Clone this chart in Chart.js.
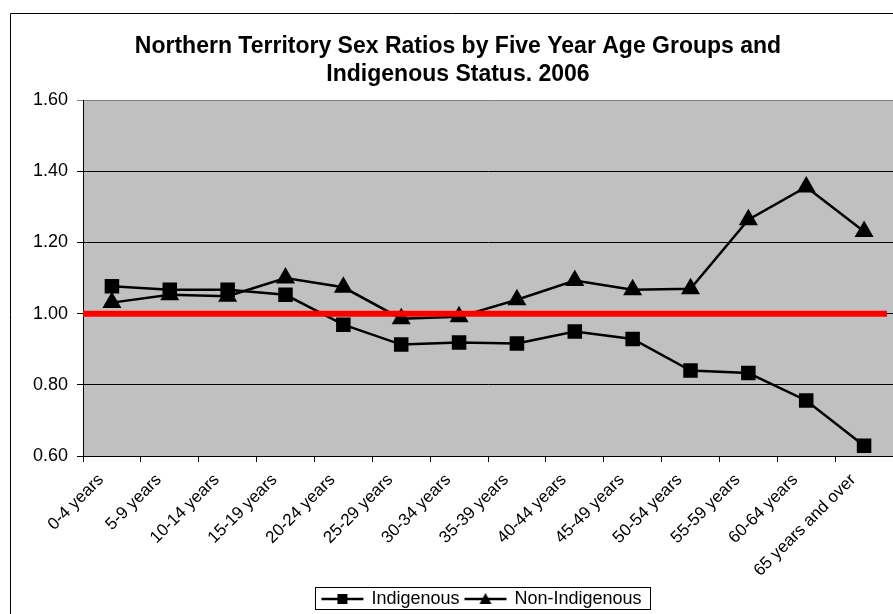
<!DOCTYPE html>
<html>
<head>
<meta charset="utf-8">
<title>NT Sex Ratios 2006</title>
<script src="https://cdn.jsdelivr.net/npm/chart.js@4/dist/chart.umd.min.js"></script>
<style>
  html, body { margin: 0; padding: 0; overflow: hidden; background: #fff; }
  #myChart { display: block; }
</style>
</head>
<body>
<canvas id="myChart" width="893" height="614"></canvas>
<script>
// data
const ageGroups = ['0-4 years', '5-9 years', '10-14 years', '15-19 years', '20-24 years',
  '25-29 years', '30-34 years', '35-39 years', '40-44 years', '45-49 years',
  '50-54 years', '55-59 years', '60-64 years', '65 years and over'];
const indigenous = [1.077, 1.067, 1.067, 1.053, 0.969, 0.913, 0.919, 0.916, 0.950, 0.929, 0.840, 0.833, 0.756, 0.629];
const nonIndigenous = [1.031, 1.053, 1.049, 1.100, 1.074, 0.986, 0.991, 1.039, 1.093, 1.067, 1.070, 1.264, 1.356, 1.231];
const refValue = 1.00;
const yMin = 0.6, yMax = 1.6, yStep = 0.2;
const titleLines = ['Northern Territory Sex Ratios by Five Year Age Groups and', 'Indigenous Status. 2006'];

const FONT = "'Liberation Sans', Arial, sans-serif";

// little line+marker pictures for the legend
function legendIcon(shape) {
  const c = document.createElement('canvas');
  c.width = 46; c.height = 16;
  const g = c.getContext('2d');
  g.strokeStyle = '#000';
  g.lineWidth = 2.5;
  g.beginPath(); g.moveTo(2, 8); g.lineTo(44, 8); g.stroke();
  g.fillStyle = '#000';
  if (shape == 'rect') {
    g.fillRect(18, 3, 10, 10);
  } else {
    g.beginPath(); g.moveTo(23, 2); g.lineTo(29, 13); g.lineTo(17, 13); g.closePath(); g.fill();
  }
  return c;
}

const bgPlugin = {
  id: 'bgPlugin',
  beforeDraw(chart) {
    const ctx = chart.ctx, a = chart.chartArea;
    ctx.save();
    ctx.fillStyle = '#fff';
    ctx.fillRect(0, 0, chart.width, chart.height);
    // outer frame: only top and left show, the rest runs off the picture
    ctx.strokeStyle = '#000';
    ctx.lineWidth = 1;
    ctx.beginPath();
    ctx.moveTo(chart.width + 5, 13.5);
    ctx.lineTo(10.5, 13.5);
    ctx.lineTo(10.5, chart.height + 5);
    ctx.stroke();
    // plot area
    ctx.fillStyle = '#C0C0C0';
    ctx.fillRect(a.left, a.top, a.right - a.left, a.bottom - a.top);
    ctx.restore();
  },
  afterLayout(chart) {
    // nudge title and legend where the original sits
    chart.titleBlock.left += 10; chart.titleBlock.right += 10;
    chart.legend.left += 34; chart.legend.right += 34;
    chart.legend.top += 4; chart.legend.bottom += 4;
  },
  afterDatasetsDraw(chart) {
    const ctx = chart.ctx, a = chart.chartArea;
    const y = chart.scales.y.getPixelForValue(refValue);
    ctx.save();
    ctx.strokeStyle = '#FF0000';
    ctx.lineWidth = 6;
    ctx.beginPath();
    ctx.moveTo(a.left, y);
    ctx.lineTo(a.right - 6, y);
    ctx.stroke();
    ctx.restore();
  },
  afterDraw(chart) {
    // box round the legend
    const hb = chart.legend.legendHitBoxes;
    if (!hb || !hb.length) return;
    let l = Infinity, r = -Infinity, t = Infinity, b = -Infinity;
    hb.forEach(h => {
      l = Math.min(l, h.left); r = Math.max(r, h.left + h.width);
      t = Math.min(t, h.top); b = Math.max(b, h.top + h.height);
    });
    const ctx = chart.ctx;
    ctx.save();
    ctx.strokeStyle = '#000';
    ctx.lineWidth = 1;
    ctx.strokeRect(Math.round(l - 7) + 0.5, Math.round(t - 3) + 0.5, Math.round(r - l + 16), Math.round(b - t + 4));
    ctx.restore();
  }
};

window.addEventListener('load', setup);

function setup() {
  const ctx = document.getElementById('myChart').getContext('2d');
  const icons = [legendIcon('rect'), legendIcon('triangle')];

  new Chart(ctx, {
    type: 'line',
    data: {
      labels: ageGroups,
      datasets: [
        {
          label: 'Indigenous',
          data: indigenous,
          borderColor: '#000',
          backgroundColor: '#000',
          borderWidth: 2.5,
          pointStyle: 'rect',
          pointRadius: 8.5,
          pointHoverRadius: 8.5,
          fill: false,
          tension: 0
        },
        {
          label: 'Non-Indigenous',
          data: nonIndigenous,
          borderColor: '#000',
          backgroundColor: '#000',
          borderWidth: 2.5,
          pointStyle: 'triangle',
          pointRadius: 8.5,
          pointHoverRadius: 8.5,
          fill: false,
          tension: 0
        }
      ]
    },
    options: {
      responsive: false,
      animation: false,
      // plot area runs a few pixels past the right edge, as in the original
      layout: { autoPadding: false, padding: { left: 0, right: -3, top: 0, bottom: 0 } },
      plugins: {
        title: {
          display: true,
          text: titleLines,
          color: '#000',
          font: { family: FONT, size: 23, weight: 'bold', lineHeight: 1.22 },
          padding: { top: 33, bottom: 11 }
        },
        legend: {
          position: 'bottom',
          labels: {
            color: '#000',
            font: { family: FONT, size: 18 },
            usePointStyle: true,
            pointStyleWidth: 40,
            padding: 6,
            generateLabels(chart) {
              return chart.data.datasets.map((ds, i) => ({
                text: ds.label,
                pointStyle: icons[i],
                fillStyle: '#000',
                strokeStyle: '#000',
                lineWidth: 0,
                hidden: false,
                datasetIndex: i,
                fontColor: '#000'
              }));
            }
          }
        },
        tooltip: { enabled: false }
      },
      scales: {
        x: {
          offset: true,
          grid: { display: true, offset: true, drawOnChartArea: false, drawTicks: true, tickLength: 6, color: '#000' },
          border: { display: true, color: '#000', width: 1 },
          ticks: {
            color: '#000',
            font: { family: FONT, size: 17 },
            minRotation: 45,
            maxRotation: 45,
            autoSkip: false,
            padding: 8,
            labelOffset: -11
          },
          afterFit(scale) {
            scale.height = 124;
            scale.paddingLeft = 0;
            scale.paddingRight = -3;
          }
        },
        y: {
          min: yMin,
          max: yMax,
          grid: {
            color: c => (c.tick && c.tick.value > 1.59 ? '#808080' : '#000'),
            lineWidth: 1,
            tickLength: 6,
            drawTicks: true
          },
          border: { display: true, color: '#000', width: 1 },
          ticks: {
            stepSize: yStep,
            color: '#000',
            font: { family: FONT, size: 18 },
            padding: 9,
            callback: v => Number(v).toFixed(2)
          },
          afterFit(scale) { scale.width = 83; }
        }
      }
    },
    plugins: [bgPlugin]
  });
}
</script>
</body>
</html>
